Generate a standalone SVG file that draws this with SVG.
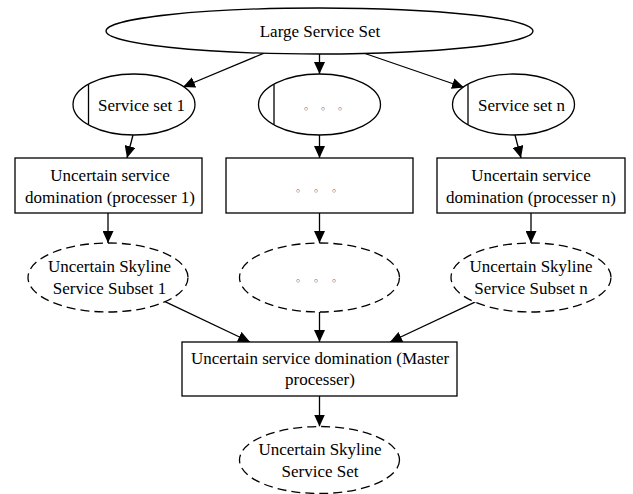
<svg xmlns="http://www.w3.org/2000/svg" width="633" height="494" viewBox="0 0 633 494">
  <style>
    .shape { fill: #ffffff; stroke: #000000; stroke-width: 1.3; }
    .dashed { fill: #ffffff; stroke: #000000; stroke-width: 1.3; stroke-dasharray: 9 5; }
    .bar { stroke: #000000; stroke-width: 1.3; }
    .label { font-family: "Liberation Serif", "Times New Roman", serif; font-size: 17px; fill: #000000; text-anchor: middle; }
    .dots { font-family: "DejaVu Sans", sans-serif; font-size: 11px; fill: #333333; text-anchor: middle; }
    .edge { fill: none; stroke: #000000; stroke-width: 1.3; marker-end: url(#arrow); }
  </style>
  <defs>
    <marker id="arrow" markerUnits="userSpaceOnUse" markerWidth="12" markerHeight="11" refX="12" refY="5.5" orient="auto">
      <path d="M0,0 L12,5.5 L0,11 z" fill="#000000"/>
    </marker>
  </defs>
  <rect width="633" height="494" fill="#ffffff"/>

  <!-- connectors -->
  <g id="edges">
    <line class="edge" x1="264" y1="53.2" x2="183" y2="87"/>
    <line class="edge" x1="319.5" y1="54" x2="319.5" y2="74"/>
    <line class="edge" x1="365" y1="53.5" x2="464" y2="87.5"/>
    <line class="edge" x1="133" y1="135" x2="127" y2="158"/>
    <line class="edge" x1="319.5" y1="135" x2="319.5" y2="158"/>
    <line class="edge" x1="515" y1="135" x2="521" y2="158"/>
    <line class="edge" x1="108" y1="213" x2="108" y2="243"/>
    <line class="edge" x1="319.5" y1="213" x2="319.5" y2="243"/>
    <line class="edge" x1="531" y1="213" x2="531" y2="243"/>
    <line class="edge" x1="165" y1="301.7" x2="250" y2="342"/>
    <line class="edge" x1="319.5" y1="312" x2="319.5" y2="342"/>
    <line class="edge" x1="476" y1="301.7" x2="390" y2="342"/>
    <line class="edge" x1="319.5" y1="396" x2="319.5" y2="426.5"/>
  </g>

  <!-- source set -->
  <g id="large-set">
    <ellipse class="shape" cx="319.5" cy="31" rx="213.5" ry="23"/>
    <text class="label" x="320" y="37">Large Service Set</text>
  </g>

  <!-- partitioned service sets -->
  <g id="set-1">
    <ellipse class="shape" cx="134" cy="104.5" rx="61" ry="30.5"/>
    <line class="bar" x1="88.5" y1="84.5" x2="88.5" y2="124.5"/>
    <text class="label" x="141.5" y="111">Service set 1</text>
  </g>
  <g id="set-mid">
    <ellipse class="shape" cx="319.5" cy="104.5" rx="61" ry="30.5"/>
    <line class="bar" x1="274" y1="84.5" x2="274" y2="124.5"/>
    <text class="dots" x="306 323 340" y="112.5">◦◦◦</text>
  </g>
  <g id="set-n">
    <ellipse class="shape" cx="513.5" cy="104.5" rx="61" ry="30.5"/>
    <line class="bar" x1="468" y1="84.5" x2="468" y2="124.5"/>
    <text class="label" x="521.5" y="111">Service set n</text>
  </g>

  <!-- per-processor domination -->
  <g id="proc-1">
    <rect class="shape" x="15" y="158" width="187" height="55"/>
    <text class="label" x="110" y="181">Uncertain service</text>
    <text class="label" x="110" y="203">domination (processer 1)</text>
  </g>
  <g id="proc-mid">
    <rect class="shape" x="226" y="158" width="187" height="55"/>
    <text class="dots" x="298 316 334" y="194.5">◦◦◦</text>
  </g>
  <g id="proc-n">
    <rect class="shape" x="437" y="158" width="188" height="55"/>
    <text class="label" x="531" y="181">Uncertain service</text>
    <text class="label" x="531" y="203">domination (processer n)</text>
  </g>

  <!-- skyline subsets -->
  <g id="subset-1">
    <ellipse class="dashed" cx="108" cy="277.5" rx="80" ry="34.5"/>
    <text class="label" x="109.5" y="272">Uncertain Skyline</text>
    <text class="label" x="109.5" y="293.5">Service Subset 1</text>
  </g>
  <g id="subset-mid">
    <ellipse class="dashed" cx="319.5" cy="277.5" rx="80" ry="34.5"/>
    <text class="dots" x="298 316 334" y="285">◦◦◦</text>
  </g>
  <g id="subset-n">
    <ellipse class="dashed" cx="531" cy="277.5" rx="80" ry="34.5"/>
    <text class="label" x="531" y="272">Uncertain Skyline</text>
    <text class="label" x="531" y="293.5">Service Subset n</text>
  </g>

  <!-- master processor -->
  <g id="master">
    <rect class="shape" x="182" y="342" width="275" height="54"/>
    <text class="label" x="320" y="363.5">Uncertain service domination (Master</text>
    <text class="label" x="320" y="385">processer)</text>
  </g>

  <!-- final result -->
  <g id="skyline-set">
    <ellipse class="dashed" cx="319.5" cy="460" rx="80" ry="33.5"/>
    <text class="label" x="320" y="455">Uncertain Skyline</text>
    <text class="label" x="320" y="476.5">Service Set</text>
  </g>
</svg>
